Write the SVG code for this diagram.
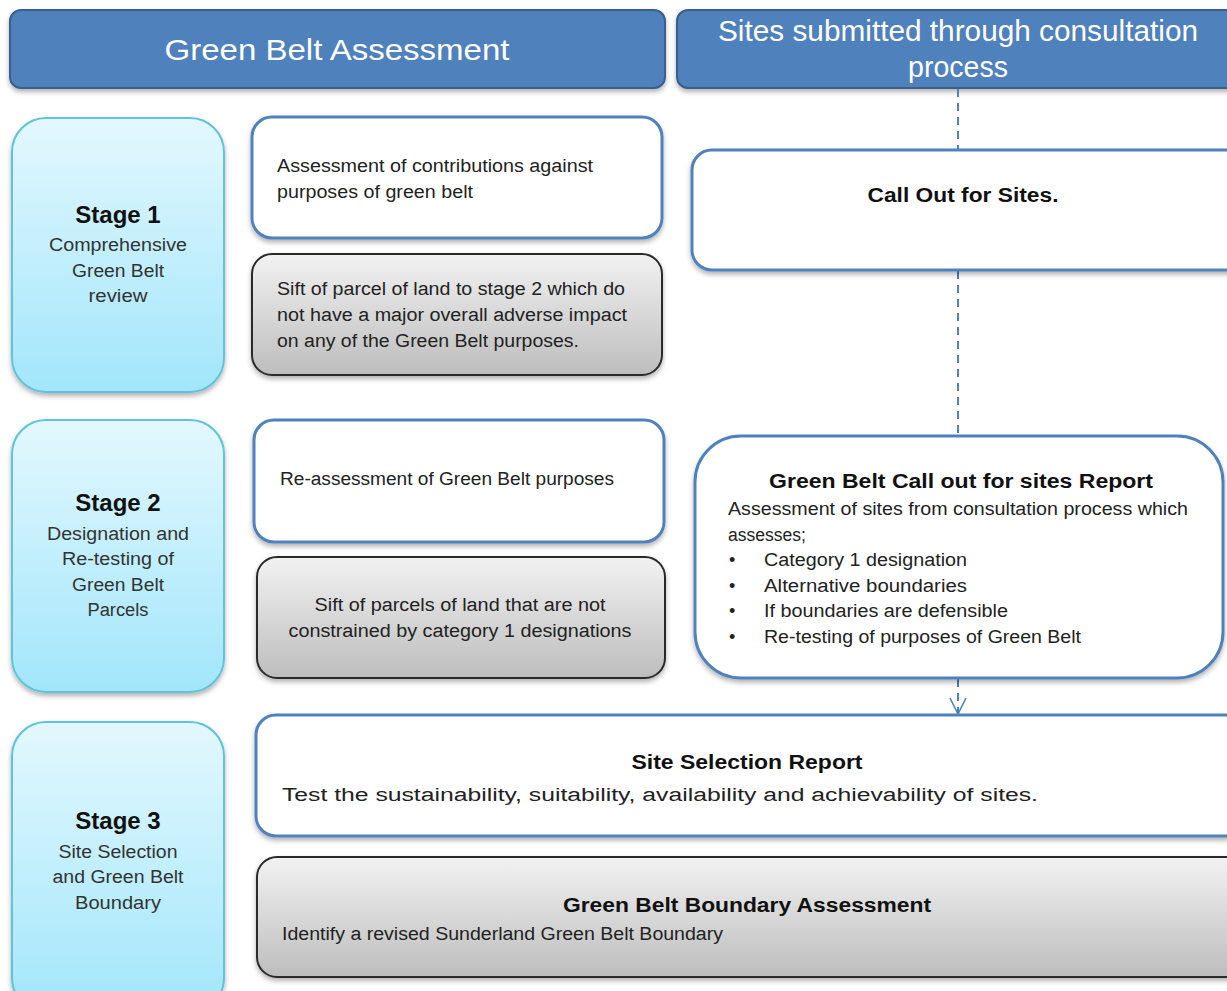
<svg xmlns="http://www.w3.org/2000/svg" width="1227" height="991" viewBox="0 0 1227 991">
<defs>
<linearGradient id="gStage" x1="0" y1="0" x2="0" y2="1"><stop offset="0" stop-color="#e3f8fe"/><stop offset="1" stop-color="#a2e6fb"/></linearGradient>
<linearGradient id="gGrey" x1="0" y1="0" x2="0" y2="1"><stop offset="0" stop-color="#f2f2f2"/><stop offset="1" stop-color="#bdbdbd"/></linearGradient>
<filter id="sh" x="-5%" y="-5%" width="110%" height="120%"><feDropShadow dx="0" dy="3" stdDeviation="2.5" flood-color="#000" flood-opacity="0.3"/></filter>
<marker id="vArrow" markerWidth="20" markerHeight="20" refX="17" refY="9" orient="auto" markerUnits="userSpaceOnUse"><path d="M1,1 L17,9 L1,17" fill="none" stroke="#4f81bd" stroke-width="1.6"/></marker>
</defs>
<style>
.hdr{fill:#4f81bd;stroke:#3a5f8c;stroke-width:2;filter:url(#sh)}
.stage{fill:url(#gStage);stroke:#5fc3dc;stroke-width:2;filter:url(#sh)}
.blue{fill:#fff;stroke:#4f81bd;stroke-width:3;filter:url(#sh)}
.grey{fill:url(#gGrey);stroke:#2b2b2b;stroke-width:2;filter:url(#sh)}
text{font-family:"Liberation Sans",Arial,sans-serif;fill:#222}
.ht{fill:#fff;font-size:29px}
.st{font-weight:bold;font-size:24px;text-anchor:middle;fill:#111}
.ss{font-size:18px;text-anchor:middle;fill:#333}
.bt{font-size:18px}
.bb{font-weight:bold;font-size:20px;text-anchor:middle;fill:#111}
.conn{stroke:#4f81bd;stroke-width:2;stroke-dasharray:8 6;fill:none}
</style>
<g id="header-gba"><rect class="hdr" x="10" y="10" width="655" height="78" rx="11"/><text class="ht" x="337" y="60" text-anchor="middle" textLength="345" lengthAdjust="spacingAndGlyphs">Green Belt Assessment</text></g>
<g id="header-sites"><rect class="hdr" x="677" y="10" width="570" height="78" rx="11"/><text class="ht" x="958" y="41" text-anchor="middle" font-size="27" textLength="480" lengthAdjust="spacingAndGlyphs">Sites submitted through consultation</text><text class="ht" x="958" y="77" text-anchor="middle" font-size="27" textLength="100" lengthAdjust="spacingAndGlyphs">process</text></g>
<g id="connectors">
<line class="conn" x1="958" y1="89" x2="958" y2="150"/>
<line class="conn" x1="958" y1="271" x2="958" y2="436"/>
<line class="conn" x1="958" y1="679" x2="958" y2="714" stroke-dasharray="8 6 20" marker-end="url(#vArrow)"/>
</g>
<g id="stage1"><rect class="stage" x="12" y="118" width="212" height="274" rx="34"/><text class="st" x="118" y="223">Stage 1</text><text class="ss" x="118" y="251" textLength="138" lengthAdjust="spacingAndGlyphs">Comprehensive</text><text class="ss" x="118" y="277" textLength="92" lengthAdjust="spacingAndGlyphs">Green Belt</text><text class="ss" x="118" y="302" textLength="59" lengthAdjust="spacingAndGlyphs">review</text></g>
<g id="stage2"><rect class="stage" x="12" y="420" width="212" height="272" rx="34"/><text class="st" x="118" y="511">Stage 2</text><text class="ss" x="118" y="540" textLength="142" lengthAdjust="spacingAndGlyphs">Designation and</text><text class="ss" x="118" y="565" textLength="112" lengthAdjust="spacingAndGlyphs">Re-testing of</text><text class="ss" x="118" y="591" textLength="92" lengthAdjust="spacingAndGlyphs">Green Belt</text><text class="ss" x="118" y="616" textLength="61" lengthAdjust="spacingAndGlyphs">Parcels</text></g>
<g id="stage3"><rect class="stage" x="12" y="722" width="212" height="290" rx="34"/><text class="st" x="118" y="829">Stage 3</text><text class="ss" x="118" y="858" textLength="119" lengthAdjust="spacingAndGlyphs">Site Selection</text><text class="ss" x="118" y="883" textLength="131" lengthAdjust="spacingAndGlyphs">and Green Belt</text><text class="ss" x="118" y="909" textLength="86" lengthAdjust="spacingAndGlyphs">Boundary</text></g>
<g id="s1-assessment"><rect class="blue" x="252" y="117" width="410" height="121" rx="20"/><text class="bt" x="277" y="172" textLength="316" lengthAdjust="spacingAndGlyphs">Assessment of contributions against</text><text class="bt" x="277" y="198" textLength="196" lengthAdjust="spacingAndGlyphs">purposes of green belt</text></g>
<g id="s1-sift"><rect class="grey" x="252" y="254" width="410" height="121" rx="20"/><text class="bt" x="277" y="295" textLength="348" lengthAdjust="spacingAndGlyphs">Sift of parcel of land to stage 2 which do</text><text class="bt" x="277" y="321" textLength="350" lengthAdjust="spacingAndGlyphs">not have a major overall adverse impact</text><text class="bt" x="277" y="347" textLength="302" lengthAdjust="spacingAndGlyphs">on any of the Green Belt purposes.</text></g>
<g id="s2-reassessment"><rect class="blue" x="254" y="420" width="410" height="122" rx="20"/><text class="bt" x="280" y="485" textLength="334" lengthAdjust="spacingAndGlyphs">Re-assessment of Green Belt purposes</text></g>
<g id="s2-sift"><rect class="grey" x="257" y="557" width="408" height="121" rx="20"/><text class="bt" x="460" y="611" text-anchor="middle" textLength="291" lengthAdjust="spacingAndGlyphs">Sift of parcels of land that are not</text><text class="bt" x="460" y="637" text-anchor="middle" textLength="343" lengthAdjust="spacingAndGlyphs">constrained by category 1 designations</text></g>
<g id="callout"><rect class="blue" x="692" y="150" width="560" height="120" rx="20"/><text class="bb" x="963" y="202" textLength="191" lengthAdjust="spacingAndGlyphs">Call Out for Sites.</text></g>
<g id="gb-report"><rect class="blue" x="695" y="436" width="528" height="242" rx="46"/><text class="bb" x="961" y="488" font-size="21" textLength="384" lengthAdjust="spacingAndGlyphs">Green Belt Call out for sites Report</text><text class="bt" x="728" y="515" textLength="460" lengthAdjust="spacingAndGlyphs">Assessment of sites from consultation process which</text><text class="bt" x="728" y="541" textLength="78" lengthAdjust="spacingAndGlyphs">assesses;</text><text class="bt" x="729" y="566">•</text><text class="bt" x="764" y="566" textLength="203" lengthAdjust="spacingAndGlyphs">Category 1 designation</text><text class="bt" x="729" y="592">•</text><text class="bt" x="764" y="592" textLength="203" lengthAdjust="spacingAndGlyphs">Alternative boundaries</text><text class="bt" x="729" y="617">•</text><text class="bt" x="764" y="617" textLength="244" lengthAdjust="spacingAndGlyphs">If boundaries are defensible</text><text class="bt" x="729" y="643">•</text><text class="bt" x="764" y="643" textLength="317" lengthAdjust="spacingAndGlyphs">Re-testing of purposes of Green Belt</text></g>
<g id="site-selection"><rect class="blue" x="256" y="715" width="990" height="121" rx="20"/><text class="bb" x="747" y="769" textLength="231" lengthAdjust="spacingAndGlyphs">Site Selection Report</text><text class="bt" x="282" y="801" font-size="21" textLength="756" lengthAdjust="spacingAndGlyphs">Test the sustainability, suitability, availability and achievability of sites.</text></g>
<g id="gb-boundary"><rect class="grey" x="257" y="857" width="990" height="120" rx="20"/><text class="bb" x="747" y="912" textLength="368" lengthAdjust="spacingAndGlyphs">Green Belt Boundary Assessment</text><text class="bt" x="282" y="940" textLength="441" lengthAdjust="spacingAndGlyphs">Identify a revised Sunderland Green Belt Boundary</text></g>
</svg>
